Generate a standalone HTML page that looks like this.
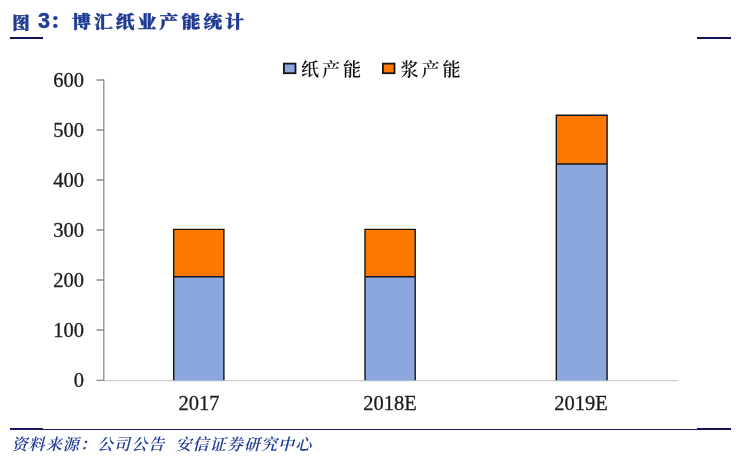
<!DOCTYPE html>
<html lang="zh-CN">
<head>
<meta charset="utf-8">
<title>图 3：博汇纸业产能统计</title>
<style>
html,body{margin:0;padding:0;background:#fff;}
body{width:746px;height:465px;position:relative;overflow:hidden;font-family:"Liberation Serif","Noto Serif CJK SC",serif;}
.abs{position:absolute;white-space:nowrap;line-height:1;}
.title{color:#1f3a93;font-weight:bold;font-family:"Liberation Sans","Noto Serif CJK SC",serif;font-size:18.8px;}
.title .c{letter-spacing:3.1px;font-weight:900;-webkit-text-stroke:0.4px #1f3a93;}
.num{font-family:"Liberation Serif",serif;font-size:20.5px;color:#1c1c1c;-webkit-text-stroke:0.3px #1c1c1c;transform:scaleY(1.06);transform-origin:50% 50%;}
.yl{width:40px;text-align:right;left:44px;}
.xl{width:80px;text-align:center;}
.leg{font-family:"Liberation Serif","Noto Serif CJK SC",serif;font-size:18px;letter-spacing:3px;color:#111;font-weight:600;}
.src{font-family:"Liberation Serif","Noto Serif CJK SC",serif;font-style:italic;font-size:16px;letter-spacing:1.1px;color:#1f3a93;font-weight:600;}
.ln{position:absolute;background:#14145a;}
</style>
</head>
<body>
<!-- title -->
<div class="abs title" style="left:12.3px;top:14.5px;font-size:17.5px;"><span class="c">图</span></div>
<div class="abs title" style="left:38px;top:11.4px;font-size:21.5px;-webkit-text-stroke:0.4px #1f3a93;">3</div>
<div class="abs title" style="left:50px;top:13.4px;"><span class="c">：</span></div>
<div class="abs title" style="left:72.1px;top:13.4px;transform:scaleY(0.93);transform-origin:50% 100%;"><span class="c">博汇纸业产能统计</span></div>
<div class="ln" style="left:10px;top:37px;width:33px;height:2px;"></div>
<div class="ln" style="left:697px;top:37px;width:34px;height:2px;"></div>

<!-- chart -->
<svg class="abs" style="left:0;top:0;" width="746" height="465" viewBox="0 0 746 465">
  <!-- axes -->
  <path d="M104 380.6H678" stroke="#cdcdcd" stroke-width="1.3" fill="none"/>
  <g stroke="#8c8c8c" stroke-width="1.3" fill="none">
    <path d="M103.8 79.5V381"/>
    <path d="M96.5 80H104M96.5 130H104M96.5 180H104M96.5 230H104M96.5 280H104M96.5 330H104M96.5 380.4H104"/>
  </g>
  <!-- bars -->
  <g>
    <rect x="173.7" y="276.8" width="50.2" height="103.8" fill="#8ca6de"/>
    <rect x="173.7" y="229.4" width="50.2" height="47.4" fill="#ff7800"/>
    <path d="M173.7 380.2V229.4H223.9V380.2M173.7 276.8H223.9" fill="none" stroke="#151515" stroke-width="1.4"/>
    <rect x="365" y="276.8" width="50.2" height="103.8" fill="#8ca6de"/>
    <rect x="365" y="229.4" width="50.2" height="47.4" fill="#ff7800"/>
    <path d="M365 380.2V229.4H415.2V380.2M365 276.8H415.2" fill="none" stroke="#151515" stroke-width="1.4"/>
    <rect x="556.3" y="164" width="50.8" height="216.6" fill="#8ca6de"/>
    <rect x="556.3" y="115.3" width="50.8" height="48.7" fill="#ff7800"/>
    <path d="M556.3 380.2V115.3H607.1V380.2M556.3 164H607.1" fill="none" stroke="#151515" stroke-width="1.4"/>
  </g>
  <!-- legend swatches -->
  <rect x="283.9" y="63.6" width="11.6" height="9.6" fill="#8ca6de" stroke="#15151f" stroke-width="1.8"/>
  <rect x="382.9" y="63.6" width="11.6" height="9.6" fill="#ff7800" stroke="#15151f" stroke-width="1.8"/>
</svg>

<!-- y labels -->
<div class="abs num yl" style="top:69.5px;">600</div>
<div class="abs num yl" style="top:119.5px;">500</div>
<div class="abs num yl" style="top:169.5px;">400</div>
<div class="abs num yl" style="top:219.5px;">300</div>
<div class="abs num yl" style="top:269.5px;">200</div>
<div class="abs num yl" style="top:319.5px;">100</div>
<div class="abs num yl" style="top:369.5px;">0</div>
<!-- x labels -->
<div class="abs num xl" style="left:159px;top:393.2px;">2017</div>
<div class="abs num xl" style="left:350px;top:393.2px;">2018E</div>
<div class="abs num xl" style="left:541px;top:393.2px;">2019E</div>
<!-- legend text -->
<div class="abs leg" style="left:301px;top:61.2px;">纸产能</div>
<div class="abs leg" style="left:400.5px;top:61.2px;">浆产能</div>

<!-- footer -->
<div class="ln" style="left:10px;top:428px;width:33px;height:2px;"></div>
<div class="ln" style="left:10px;top:429px;width:721px;height:1px;background:#1c1c6c;"></div>
<div class="ln" style="left:697px;top:428px;width:34px;height:2px;"></div>
<div class="abs src" style="left:11.5px;top:436.6px;">资料来源：公司公告</div>
<div class="abs src" style="left:175.5px;top:436.6px;">安信证券研究中心</div>
</body>
</html>
